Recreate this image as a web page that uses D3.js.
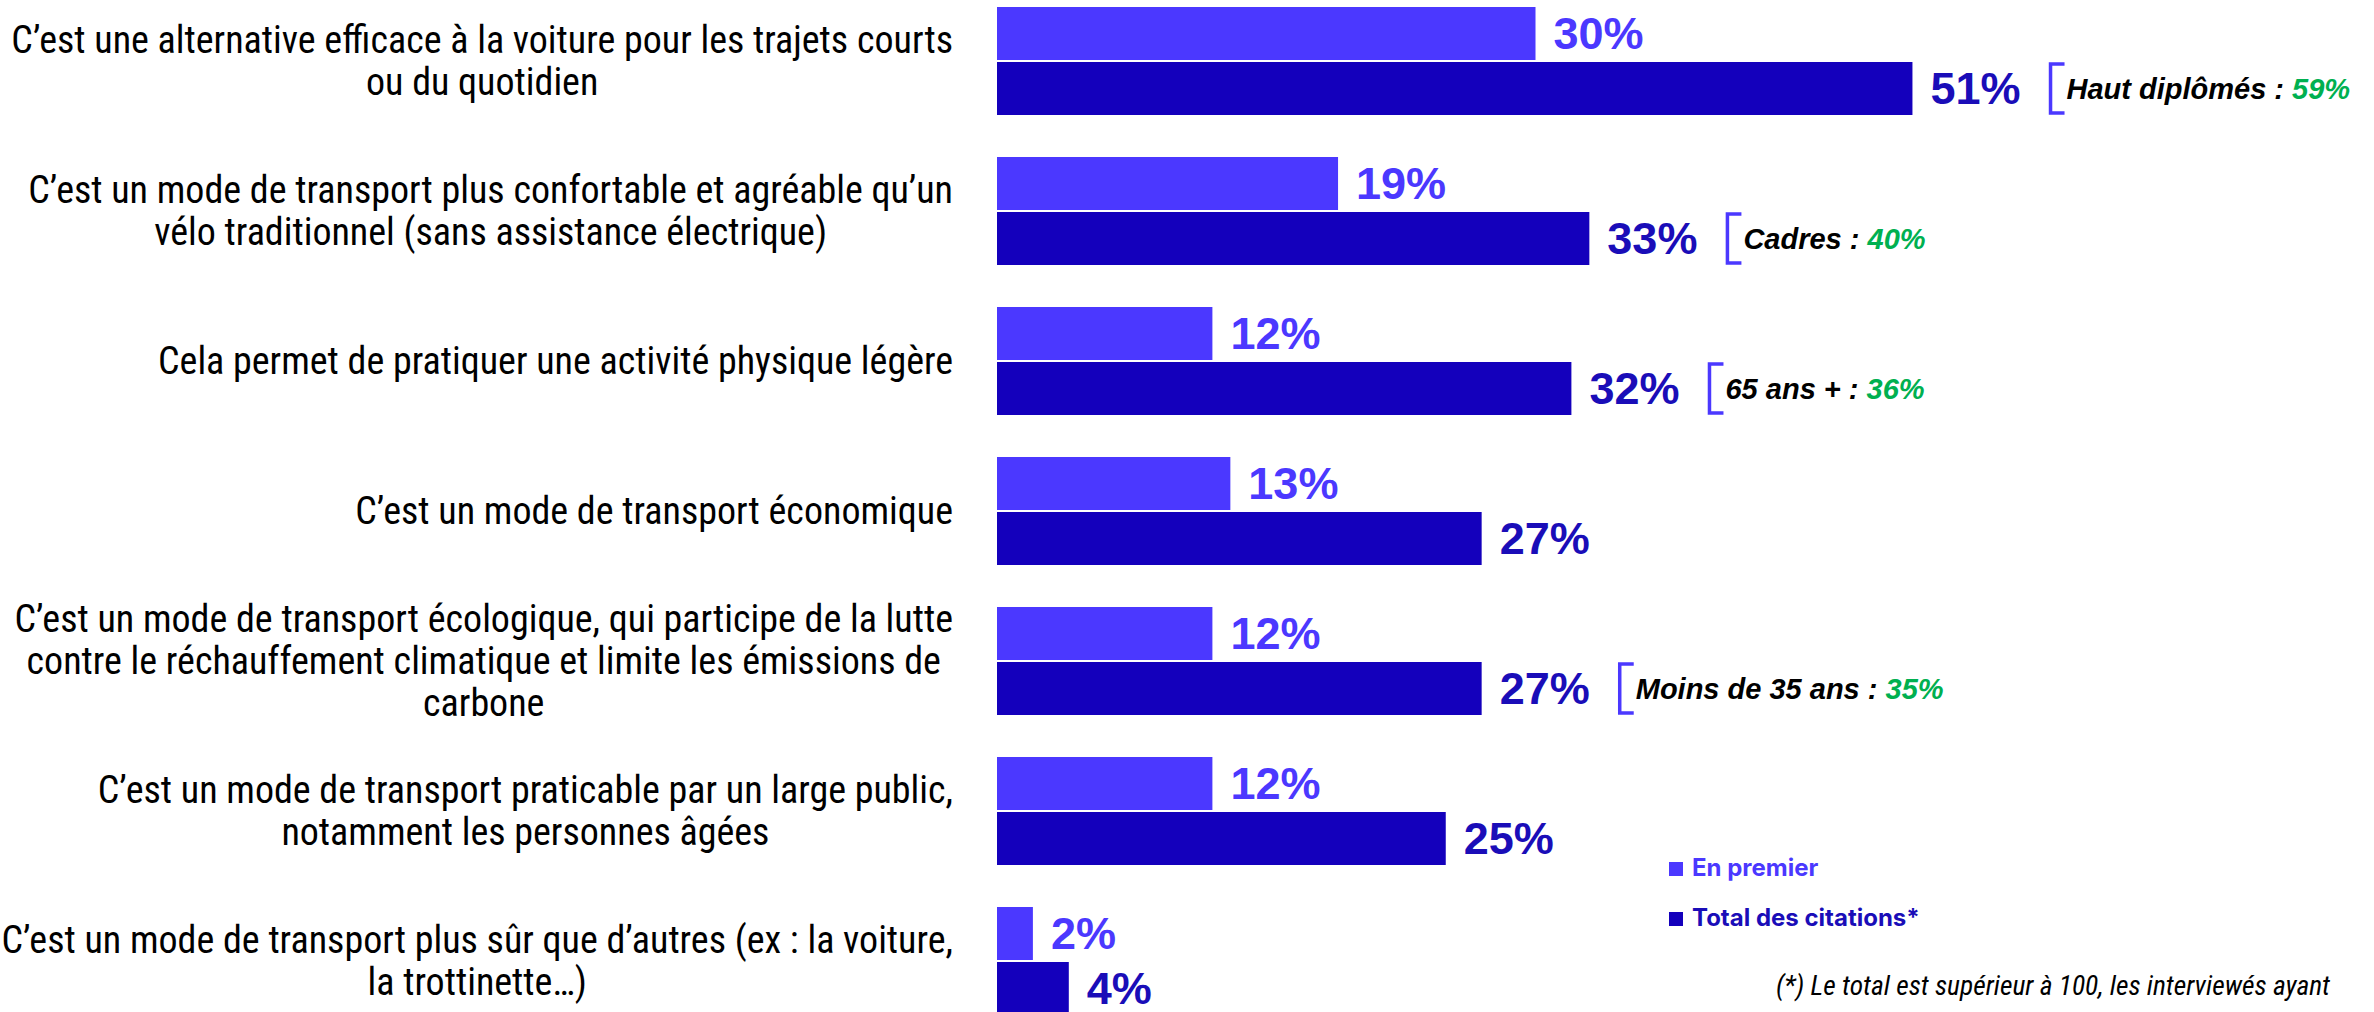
<!DOCTYPE html>
<html>
<head>
<meta charset="utf-8">
<script src="https://cdn.jsdelivr.net/npm/d3@7"></script>
<style>
  html, body { margin: 0; padding: 0; background: #ffffff; }
  svg { display: block; }
</style>
</head>
<body>
<svg id="chart"></svg>
<script>
// libellés des items (les retours à la ligne sont ceux du graphique d'origine)
const categories = [
  "C’est une alternative efficace à la voiture pour les trajets courts\nou du quotidien",
  "C’est un mode de transport plus confortable et agréable qu’un\nvélo traditionnel (sans assistance électrique)",
  "Cela permet de pratiquer une activité physique légère",
  "C’est un mode de transport économique",
  "C’est un mode de transport écologique, qui participe de la lutte\ncontre le réchauffement climatique et limite les émissions de\ncarbone",
  "C’est un mode de transport praticable par un large public,\nnotamment les personnes âgées",
  "C’est un mode de transport plus sûr que d’autres (ex : la voiture,\nla trottinette…)"
];
const enPremier = [30, 19, 12, 13, 12, 12, 2];
const totalCitations = [51, 33, 32, 27, 27, 25, 4];
const seriesNames = ["En premier", "Total des citations*"];
// sous-populations mises en avant
const highlightLabels = ["Haut diplômés", "Cadres", "65 ans +", null, "Moins de 35 ans", null, null];
const highlightValues = [59, 40, 36, null, 35, null, null];
const footnote = ["(*) Le total est supérieur à 100, les interviewés ayant", "pu donner plusieurs réponses"];

const width = 2374;
const height = 1012;
const colLight = "#4b38ff";
const colDark = "#1400bc";
const colDarkText = "#1a0db8";
const colGreen = "#00b050";
const labelFont = "'Liberation Sans Narrow', 'Roboto Condensed', 'Liberation Sans', sans-serif";
const numFont = "'Liberation Sans', Arial, sans-serif";

const svg = d3.select("#chart")
  .attr("width", width)
  .attr("height", height);

const x = d3.scaleLinear()
  .domain([0, 100])
  .range([997, 997 + 1795]);

const y = d3.scaleBand()
  .domain(d3.range(categories.length))
  .range([7, 1015])
  .paddingInner(0.28);

const ySub = d3.scaleBand()
  .domain([0, 1])
  .range([0, y.bandwidth()])
  .paddingInner(2 / 55);

const rows = categories.map((c, i) => ({
  i: i,
  lines: c.split("\n"),
  values: [enPremier[i], totalCitations[i]],
  hl: highlightLabels[i],
  hlv: highlightValues[i]
}));

const g = svg.selectAll("g.row")
  .data(rows)
  .enter()
  .append("g")
  .attr("class", "row")
  .attr("transform", d => "translate(0," + y(d.i) + ")");

// libellés à gauche : bloc aligné à droite, lignes centrées entre elles
const labelRight = 953;
const lineH = 42;
g.each(function(d) {
  const row = d3.select(this);
  const t = row.append("text")
    .attr("font-family", labelFont)
    .attr("font-size", 38)
    .attr("fill", "#000")
    .attr("text-anchor", "middle");
  const n = d.lines.length;
  const spans = d.lines.map((l, k) => t.append("tspan")
    .attr("y", y.bandwidth() / 2 + (k - (n - 1) / 2) * lineH)
    .attr("dy", "0.35em")
    .text(l));
  const maxW = d3.max(spans, s => s.node().getComputedTextLength());
  spans.forEach(s => s.attr("x", labelRight - maxW / 2));
});

// barres
g.selectAll("rect")
  .data(d => d.values.map((v, k) => ({ v: v, k: k })))
  .enter()
  .append("rect")
  .attr("x", x(0))
  .attr("y", d => ySub(d.k))
  .attr("width", d => x(d.v) - x(0))
  .attr("height", ySub.bandwidth())
  .attr("fill", d => d.k === 0 ? colLight : colDark);

// valeurs
g.selectAll("text.val")
  .data(d => d.values.map((v, k) => ({ v: v, k: k })))
  .enter()
  .append("text")
  .attr("class", "val")
  .attr("x", d => x(d.v) + 18)
  .attr("y", d => ySub(d.k) + ySub.bandwidth() / 2)
  .attr("dy", "0.35em")
  .attr("font-family", numFont)
  .attr("font-weight", "bold")
  .attr("font-size", 45)
  .attr("fill", d => d.k === 0 ? colLight : colDarkText)
  .text(d => d.v + "%");

// crochets + sous-populations
g.filter(d => d.hl).each(function(d) {
  const row = d3.select(this);
  const valNode = row.selectAll("text.val").filter(e => e.k === 1).node();
  const bx = x(d.values[1]) + 18 + valNode.getComputedTextLength() + 30;
  const top = ySub(1) + 2;
  const bot = ySub(1) + ySub.bandwidth() - 2;
  row.append("path")
    .attr("d", "M" + (bx + 14) + "," + top + "H" + bx + "V" + bot + "H" + (bx + 14))
    .attr("fill", "none")
    .attr("stroke", colLight)
    .attr("stroke-width", 3.5);
  const t = row.append("text")
    .attr("x", bx + 16)
    .attr("y", ySub(1) + ySub.bandwidth() / 2)
    .attr("dy", "0.35em")
    .attr("font-family", numFont)
    .attr("font-weight", "bold")
    .attr("font-style", "italic")
    .attr("font-size", 29);
  t.append("tspan").attr("fill", "#000").text(d.hl + " : ");
  t.append("tspan").attr("fill", colGreen).text(d.hlv + "%");
});

// légende
const legend = svg.append("g").attr("transform", "translate(1669,862)");
seriesNames.forEach((s, k) => {
  legend.append("rect")
    .attr("x", 0)
    .attr("y", k * 50)
    .attr("width", 14)
    .attr("height", 14)
    .attr("fill", k === 0 ? colLight : colDark);
  legend.append("text")
    .attr("x", 23)
    .attr("y", k * 50 + 14)
    .attr("font-family", "Inter, 'Noto Sans', sans-serif")
    .attr("font-weight", "bold")
    .attr("font-size", 24)
    .attr("fill", k === 0 ? colLight : colDarkText)
    .text(s);
});

// note
svg.append("text")
  .attr("font-family", labelFont)
  .attr("font-style", "italic")
  .attr("font-size", 27.5)
  .attr("fill", "#000")
  .attr("text-anchor", "middle")
  .selectAll("tspan")
  .data(footnote)
  .enter()
  .append("tspan")
  .attr("x", 2053)
  .attr("y", (d, k) => 995 + k * 38)
  .text(d => d);
</script>
</body>
</html>
